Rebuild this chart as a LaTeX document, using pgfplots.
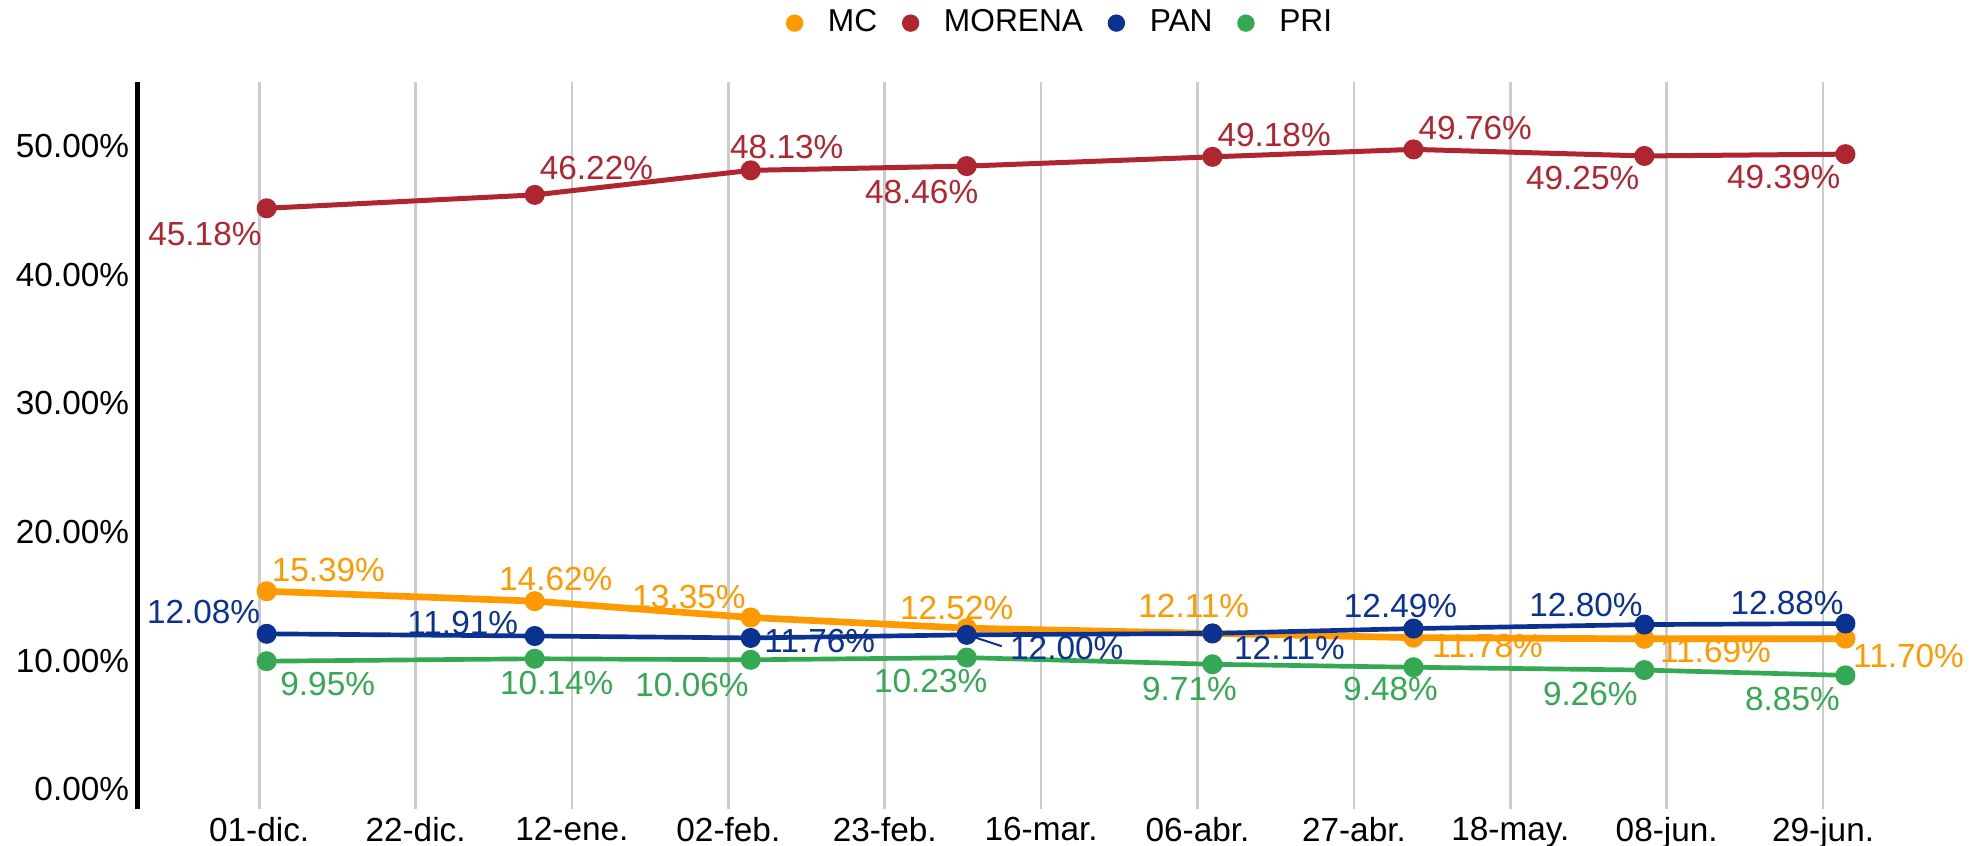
\documentclass[border=0pt]{standalone}
\usepackage{pgfplots}
\pgfplotsset{compat=1.18}
\usepackage{pgfplotstable}
\usepackage{fontspec}
\setmainfont{Liberation Sans}

\definecolor{colMC}{RGB}{255,153,0}
\definecolor{colMOR}{RGB}{176,38,48}
\definecolor{colPAN}{RGB}{12,50,145}
\definecolor{colPRI}{RGB}{52,168,83}

\newcommand{\lbl}{\fontsize{10}{12}\selectfont}
\newcommand{\lgd}{\fontsize{9.5}{11}\selectfont}

% x = days since 01-dic; dx, dy = label offset (pt)
\pgfplotstableread{
x y dx dy
1 15.39 18.5 6.5
37 14.62 6.3 6.5
66 13.35 -18.5 6.0
95 12.52 -3.0 6.0
128 12.11 -5.6 8.1
155 11.78 22.2 -2.4
186 11.69 21.3 -3.6
213 11.70 18.9 -5.1
}\tblMC

\pgfplotstableread{
x y dx dy
1 45.18 -18.5 -7.8
37 46.22 18.5 8.0
66 48.13 10.8 6.9
95 48.46 -13.5 -7.8
128 49.18 18.5 6.6
155 49.76 18.5 6.3
186 49.25 -18.5 -6.6
213 49.39 -18.5 -6.9
}\tblMOR

\pgfplotstableread{
x y dx dy
1 12.08 -18.9 6.5
37 11.91 -21.6 3.9
66 11.76 20.7 -0.8
95 12.00 30.0 -3.9
128 12.11 23.1 -4.5
155 12.49 -3.9 6.9
186 12.80 -17.5 6.0
213 12.88 -17.5 6.3
}\tblPAN

\pgfplotstableread{
x y dx dy
1 9.95 18.3 -6.9
37 10.14 6.6 -7.2
66 10.06 -17.6 -7.5
95 10.23 -10.8 -6.9
128 9.71 -6.9 -7.5
155 9.48 -6.9 -6.6
186 9.26 -16.2 -7.2
213 8.85 -15.9 -7.2
}\tblPRI

\pgfplotsset{
  ser/.style={
    color=#1, mark=*, mark size=2.8pt,
    mark options={solid, line width=0.4pt},
    forget plot,
    nodes near coords={\pgfplotspointmeta\%},
    point meta=explicit symbolic,
    visualization depends on={\thisrow{dx}\as\myDx},
    visualization depends on={\thisrow{dy}\as\myDy},
    every node near coord/.append style={text=#1, anchor=center,
      xshift=\myDx, yshift=\myDy, inner sep=0pt, font=\lbl},
  },
  dot/.style={legend image code/.code={\fill[#1] (0pt,0pt) circle (2.4pt);}},
}

\begin{document}
\begin{tikzpicture}
\begin{axis}[
    scale only axis,
    width=545pt,
    height=218pt,
    xmin=-16.4, xmax=227.7,
    ymin=-1.56, ymax=55,
    axis lines*=left,
    x axis line style={draw=none},
    y axis line style={line width=1.5pt, black},
    major tick length=0pt,
    xtick={0,21,...,210},
    xticklabels={01-dic.,22-dic.,12-ene.,02-feb.,23-feb.,16-mar.,06-abr.,27-abr.,18-may.,08-jun.,29-jun.},
    ytick={0,10,...,50},
    yticklabels={0.00\%,10.00\%,20.00\%,30.00\%,40.00\%,50.00\%},
    tick label style={font=\lbl, black},
    xticklabel style={inner sep=0pt, anchor=north, yshift=-2.2pt},
    yticklabel style={inner sep=0pt, anchor=east, xshift=-2.2pt},
    xmajorgrids,
    grid style={black!20, line width=0.8pt},
    clip=false,
    legend columns=4,
    legend style={draw=none, fill=none, at={(0.509,1.081)}, anchor=center,
      font=\lgd,
      /tikz/every odd column/.append style={column sep=5.4pt},
      /tikz/every even column/.append style={column sep=5.4pt}},
]
\addlegendimage{dot=colMC}
\addlegendentry{MC}
\addlegendimage{dot=colMOR}
\addlegendentry{MORENA}
\addlegendimage{dot=colPAN}
\addlegendentry{PAN}
\addlegendimage{dot=colPRI}
\addlegendentry{PRI}

\addplot[ser=colMC, line width=2pt] table[x=x, y=y, meta=y] {\tblMC};
\addplot[ser=colMOR, line width=1.5pt] table[x=x, y=y, meta=y] {\tblMOR};
\addplot[ser=colPAN, line width=1.4pt] table[x=x, y=y, meta=y] {\tblPAN};
\addplot[ser=colPRI, line width=1.4pt] table[x=x, y=y, meta=y] {\tblPRI};

% leader line of the 12.00% label
\draw[colPAN, line width=0.6pt] (axis cs:95,12.0) ++(2pt,-0.6pt) -- ++(8.5pt,-2.8pt);

\coordinate (bbl) at (rel axis cs:-0.0754,-0.0495);
\coordinate (btr) at (rel axis cs:1.0149,1.1128);
\end{axis}
\pgfresetboundingbox
\path[use as bounding box] (bbl) rectangle (btr);
\end{tikzpicture}
\end{document}
